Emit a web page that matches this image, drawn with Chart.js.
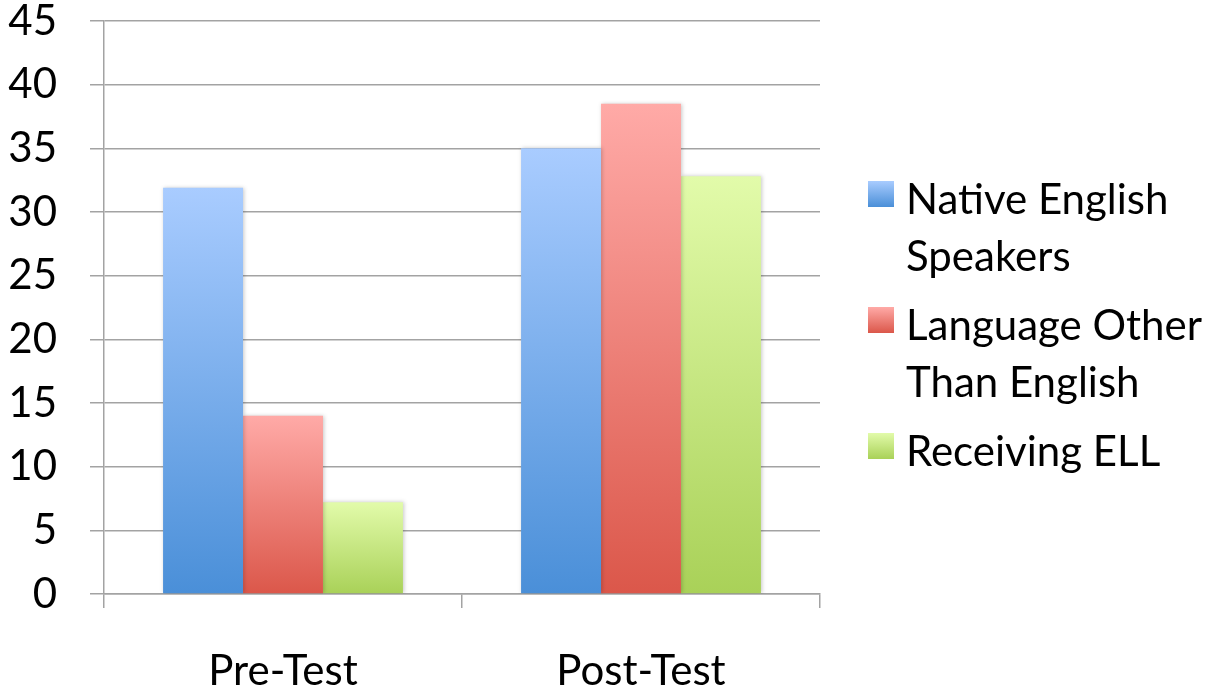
<!DOCTYPE html>
<html>
<head>
<meta charset="utf-8">
<script src="https://cdn.jsdelivr.net/npm/chart.js@4.4.1/dist/chart.umd.min.js"></script>
<style>
  html, body { margin: 0; padding: 0; background: #fff; }
  #wrap { position: relative; width: 1222px; height: 691px; }
  #legend { position: absolute; left: 868px; top: 170px; font-family: Lato, "Open Sans", sans-serif; font-size: 42px; color: #000; }
  .item { display: flex; align-items: flex-start; margin-bottom: 12px; }
  .box { width: 26px; height: 26px; margin-top: 11px; margin-right: 12px; flex: none; }
  .txt { line-height: 57px; white-space: nowrap; }
</style>
</head>
<body>
<div id="wrap">
  <canvas id="c" width="1222" height="691"></canvas>
  <div id="legend"></div>
</div>
<script>
// Test phases and scores per student group
const categories = ["Pre-Test", "Post-Test"];
const seriesNames = ["Native English Speakers", "Language Other Than English", "Receiving ELL"];
const legendLines = [["Native English", "Speakers"], ["Language Other", "Than English"], ["Receiving ELL"]];
const nativeEnglish = [31.9, 35.0];
const otherLanguage = [14.0, 38.5];
const receivingELL = [7.2, 32.8];
const yTicks = [0, 5, 10, 15, 20, 25, 30, 35, 40, 45];

// Light top / darker bottom shade for each group
const shades = [
  ["#a9ccff", "#4a8fd8"],
  ["#ffaaa7", "#db574a"],
  ["#e2fbaa", "#a9d158"]
];

function barGradient(i) {
  return function (ctx) {
    const chart = ctx.chart;
    const y = chart.scales && chart.scales.y;
    if (!y || ctx.raw === undefined) return shades[i][1];
    const top = y.getPixelForValue(ctx.raw);
    const base = y.getPixelForValue(0);
    if (!isFinite(top) || !isFinite(base) || top === base) return shades[i][1];
    const g = chart.ctx.createLinearGradient(0, top, 0, base);
    g.addColorStop(0, shades[i][0]);
    g.addColorStop(1, shades[i][1]);
    return g;
  };
}

const seriesValues = [nativeEnglish, otherLanguage, receivingELL];
const datasets = seriesValues.map((vals, i) => ({
  label: seriesNames[i],
  data: vals,
  backgroundColor: barGradient(i),
  borderWidth: 0,
  categoryPercentage: 0.67,
  barPercentage: 1.0
}));

// Soft shadow behind the bars
const barShadow = {
  id: "barShadow",
  beforeDatasetsDraw(chart) {
    const c = chart.ctx;
    c.save();
    c.shadowColor = "rgba(0,0,0,0.22)";
    c.shadowBlur = 4;
    c.shadowOffsetX = 1;
    c.shadowOffsetY = 0;
  },
  afterDatasetsDraw(chart) { chart.ctx.restore(); }
};

const gridGray = "#a3a3a3";
const font = { family: "Lato, 'Open Sans', sans-serif", size: 42 };

const chart = new Chart(document.getElementById("c"), {
  type: "bar",
  data: { labels: categories, datasets },
  options: {
    responsive: false,
    animation: false,
    layout: { padding: { top: 21, right: 402, bottom: 0, left: 0 } },
    plugins: { legend: { display: false }, tooltip: { enabled: false } },
    scales: {
      x: {
        offset: true,
        grid: { offset: true, drawOnChartArea: false, drawTicks: true, tickLength: 14, color: gridGray, lineWidth: 1.5 },
        border: { display: true, color: gridGray, width: 1.5 },
        ticks: { font, color: "#000", padding: 38 },
        afterFit(scale) { scale.height = 97; }
      },
      y: {
        min: 0, max: 45,
        afterBuildTicks(scale) { scale.ticks = yTicks.map(v => ({ value: v })); },
        grid: { drawTicks: true, tickLength: 14, color: gridGray, lineWidth: 1.5 },
        border: { display: true, color: gridGray, width: 1.5 },
        ticks: { font, color: "#000", padding: 33 },
        afterFit(scale) {
          scale.width = 104;
          scale.paddingTop = 0;
          scale.paddingBottom = 0;
        }
      }
    }
  },
  plugins: [barShadow]
});

// Legend built from the chart's datasets
const legendEl = document.getElementById("legend");
chart.data.datasets.forEach((ds, i) => {
  const item = document.createElement("div");
  item.className = "item";
  const box = document.createElement("div");
  box.className = "box";
  box.style.background = "linear-gradient(" + shades[i][0] + "," + shades[i][1] + ")";
  const txt = document.createElement("div");
  txt.className = "txt";
  txt.innerHTML = legendLines[i].join("<br>");
  item.appendChild(box);
  item.appendChild(txt);
  legendEl.appendChild(item);
});
</script>
</body>
</html>
